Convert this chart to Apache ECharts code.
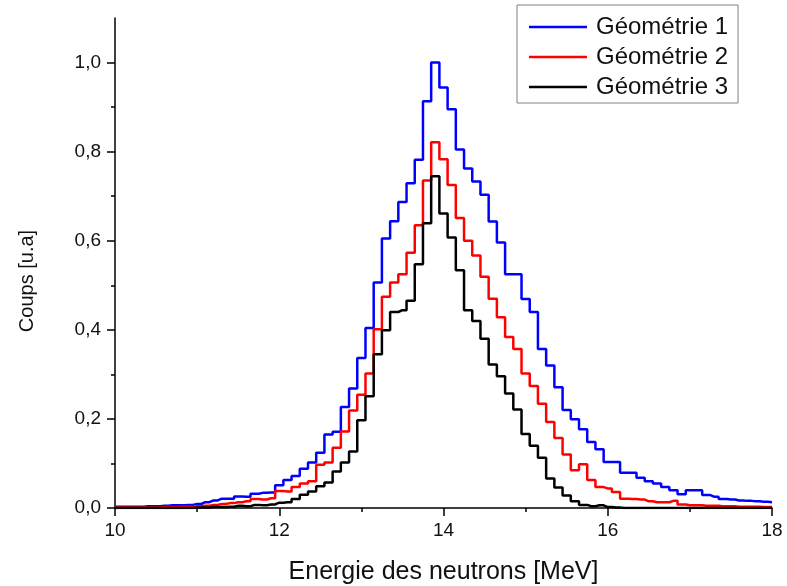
<!DOCTYPE html>
<html>
<head>
<meta charset="utf-8">
<script src="https://cdn.jsdelivr.net/npm/echarts@6/dist/echarts.min.js"></script>
<style>
html,body{margin:0;padding:0;background:#fff;}
#chart{width:787px;height:586px;}
</style>
</head>
<body>
<div id="chart"></div>
<script>
// Bin centres (MeV)
const energy = [
  10.0,10.1,10.2,10.3,10.4,10.5,10.6,10.7,10.8,10.9,
  11.0,11.1,11.2,11.3,11.4,11.5,11.6,11.7,11.8,11.9,
  12.0,12.1,12.2,12.3,12.4,12.5,12.6,12.7,12.8,12.9,
  13.0,13.1,13.2,13.3,13.4,13.5,13.6,13.7,13.8,13.9,
  14.0,14.1,14.2,14.3,14.4,14.5,14.6,14.7,14.8,14.9,
  15.0,15.1,15.2,15.3,15.4,15.5,15.6,15.7,15.8,15.9,
  16.0,16.1,16.2,16.3,16.4,16.5,16.6,16.7,16.8,16.9,
  17.0,17.1,17.2,17.3,17.4,17.5,17.6,17.7,17.8,17.9,
  18.0
];
const geometrie1 = [
  0.003,0.003,0.003,0.003,0.004,0.004,0.005,0.006,0.006,0.007,
  0.009,0.013,0.017,0.021,0.021,0.026,0.025,0.032,0.034,0.035,
  0.051,0.063,0.072,0.088,0.102,0.124,0.165,0.171,0.227,0.268,
  0.337,0.404,0.506,0.605,0.644,0.687,0.729,0.782,0.913,1.000,
  0.944,0.895,0.805,0.762,0.733,0.703,0.643,0.596,0.525,0.525,
  0.469,0.440,0.357,0.320,0.271,0.220,0.199,0.177,0.148,0.132,
  0.103,0.103,0.079,0.079,0.068,0.060,0.055,0.047,0.040,0.031,
  0.040,0.040,0.029,0.025,0.020,0.019,0.017,0.016,0.015,0.014,
  0.013
];
const geometrie2 = [
  0.001,0.001,0.001,0.001,0.001,0.001,0.002,0.002,0.003,0.003,
  0.004,0.005,0.007,0.009,0.011,0.013,0.015,0.020,0.019,0.022,
  0.038,0.037,0.047,0.055,0.060,0.097,0.102,0.135,0.172,0.219,
  0.254,0.302,0.401,0.474,0.506,0.525,0.573,0.635,0.735,0.821,
  0.783,0.725,0.651,0.600,0.567,0.519,0.470,0.428,0.384,0.357,
  0.302,0.274,0.234,0.193,0.157,0.120,0.085,0.098,0.063,0.047,
  0.044,0.036,0.021,0.020,0.019,0.015,0.013,0.013,0.016,0.008,
  0.006,0.006,0.005,0.005,0.004,0.004,0.003,0.003,0.003,0.002,
  0.002
];
const geometrie3 = [
  0,0,0,0,0,0,0,0,0,0,
  0.001,0.001,0.002,0.002,0.003,0.005,0.004,0.007,0.006,0.008,
  0.012,0.013,0.020,0.030,0.037,0.049,0.057,0.082,0.102,0.127,
  0.197,0.251,0.345,0.399,0.440,0.444,0.465,0.547,0.639,0.745,
  0.661,0.607,0.534,0.444,0.420,0.380,0.322,0.296,0.257,0.221,
  0.166,0.140,0.113,0.066,0.046,0.028,0.015,0.007,0.004,0.006,
  0.002,0.001,0,0,0,0,0,0,0,0,
  0,0,0,0,0,0,0,0,0,0,
  0
];
const seriesNames = ['Géométrie 1','Géométrie 2','Géométrie 3'];
const seriesColors = ['#0000ff','#ff0000','#000000'];
const xTicks = [10,12,14,16,18];
const yMajorTicks = [0,0.2,0.4,0.6,0.8,1.0];
const yMinorTicks = [0.1,0.3,0.5,0.7,0.9];

const FONT = '"Liberation Sans", Arial, sans-serif';
const pairs = arr => energy.map((e,i)=>[e,arr[i]]);
const allData = [geometrie1, geometrie2, geometrie3];

const chart = echarts.init(document.getElementById('chart'), null, {renderer:'canvas'});
chart.setOption({
  animation:false,
  backgroundColor:'#fff',
  grid:{left:115, right:15, top:18, bottom:78, containLabel:false, outerBoundsMode:'none'},
  legend:{
    orient:'vertical', left:517, top:5,
    padding:[10,10,4,12],
    borderColor:'#808080', borderWidth:1,
    icon:'rect',
    itemWidth:58, itemHeight:2.5, itemGap:6,
    textStyle:{fontFamily:FONT, fontSize:24, color:'#111', padding:[0,0,0,4]},
    data:seriesNames
  },
  xAxis:{
    type:'value', min:10, max:18, interval:2,
    name:'Energie des neutrons [MeV]', nameLocation:'middle', nameGap:52,
    nameTextStyle:{fontFamily:FONT, fontSize:25, color:'#111'},
    axisLine:{show:true, lineStyle:{color:'#000', width:1.5}},
    axisTick:{show:true, length:8, lineStyle:{color:'#000', width:1.5}},
    minorTick:{show:true, splitNumber:2, length:4, lineStyle:{color:'#000', width:1.5}},
    splitLine:{show:false},
    axisLabel:{fontFamily:FONT, fontSize:19, color:'#111', margin:13,
      customValues:xTicks}
  },
  yAxis:[{
    type:'value', min:0, max:1.1,
    name:'Coups [u.a]', nameLocation:'middle', nameGap:78, nameRotate:90,
    nameTextStyle:{fontFamily:FONT, fontSize:20, color:'#111', padding:[0,36,0,0]},
    axisLine:{show:true, lineStyle:{color:'#000', width:1.5}},
    axisTick:{show:true, length:8, customValues:yMajorTicks, lineStyle:{color:'#000', width:1.5}},
    splitLine:{show:false},
    axisLabel:{fontFamily:FONT, fontSize:19, color:'#111', margin:14,
      customValues:yMajorTicks,
      formatter:v=>v.toFixed(1).replace('.',',')}
  },{
    type:'value', min:0, max:1.1, position:'left',
    axisLine:{show:false},
    axisTick:{show:true, length:4, customValues:yMinorTicks, lineStyle:{color:'#000', width:1.5}},
    axisLabel:{show:false},
    splitLine:{show:false}
  }],
  series: allData.map((arr,i)=>({
    name:seriesNames[i], type:'line', step:'middle',
    yAxisIndex:0,
    data:pairs(arr), symbol:'none', showSymbol:false,
    lineStyle:{color:seriesColors[i], width:2.5},
    itemStyle:{color:seriesColors[i]},
    z:2+i
  }))
});
</script>
</body>
</html>
